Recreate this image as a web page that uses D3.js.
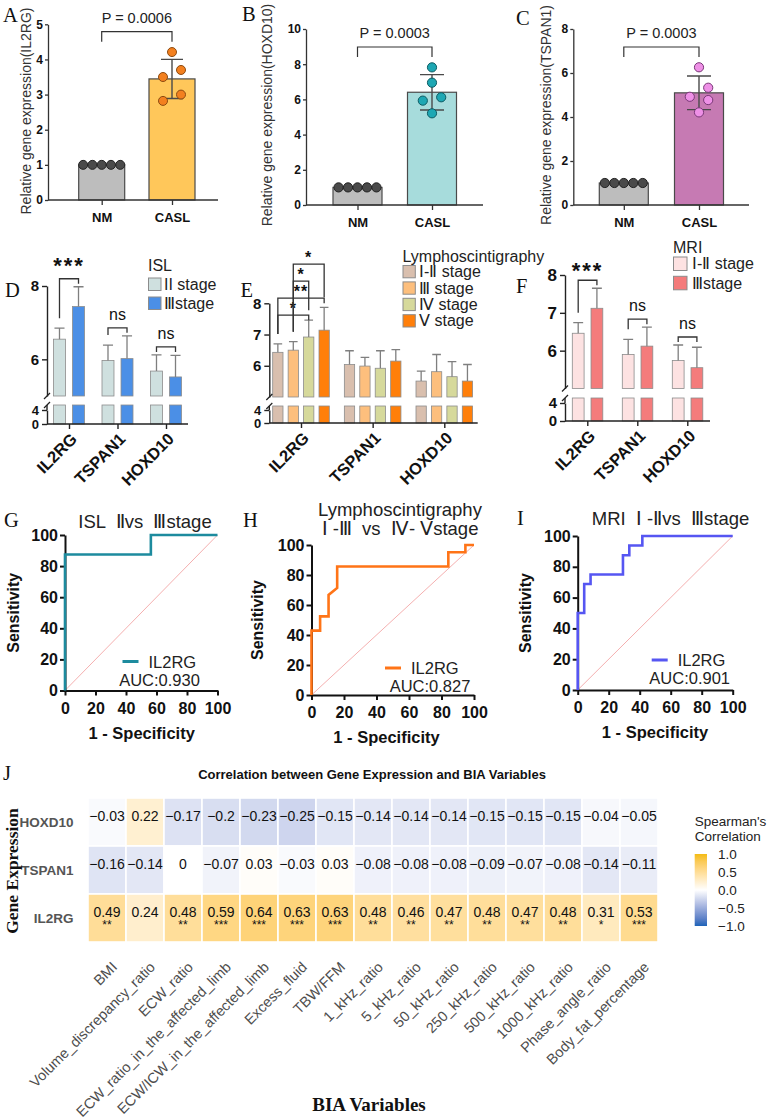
<!DOCTYPE html>
<html>
<head>
<meta charset="utf-8">
<script src="https://cdn.jsdelivr.net/npm/d3@7"></script>
<style>
  body { margin: 0; background: #fff; }
  svg { display: block; background: #fff; }
</style>
</head>
<body>
<svg id="fig" width="767" height="1119" font-family="'Liberation Sans', Arial, Helvetica, sans-serif"></svg>
<script>
// ---- values ----
var groupsAB = ["NM", "CASL"];
var nmRel = [1, 1, 1, 1, 1];
var caslIL2RG = [4.21, 3.7, 3.5, 3.0, 2.82];
var caslHOXD10 = [7.82, 6.95, 6.12, 5.93, 5.21];
var caslTSPAN1 = [6.26, 5.33, 4.92, 4.77, 4.21];
var pLabels = ["P = 0.0006", "P = 0.0003", "P = 0.0003"];

var genes = ["IL2RG", "TSPAN1", "HOXD10"];

var islStages = ["II stage", "Ⅲstage"];
var islMean = [[6.55, 7.44], [5.97, 6.02], [5.68, 5.52]];
var islSD = [[0.30, 0.54], [0.42, 0.62], [0.44, 0.59]];
var islSig = [["IL2RG", 0, 1, "***"], ["TSPAN1", 0, 1, "ns"], ["HOXD10", 0, 1, "ns"]];

var lymphStages = ["Ⅰ-Ⅱ stage", "Ⅲ stage", "Ⅳ stage", "Ⅴ stage"];
var lymphMean = [[6.43, 6.50, 6.92, 7.14], [6.04, 5.99, 5.92, 6.15], [5.51, 5.81, 5.65, 5.51]];
var lymphSD = [[0.27, 0.27, 0.54, 0.73], [0.44, 0.28, 0.56, 0.37], [0.32, 0.55, 0.48, 0.53]];
var lymphSig = [["IL2RG", 0, 2, "*"], ["IL2RG", 0, 3, "**"], ["IL2RG", 1, 2, "*"], ["IL2RG", 1, 3, "*"]];

var mriStages = [" Ⅰ-Ⅱ stage", "Ⅲstage"];
var mriMean = [[6.46, 7.12], [5.90, 6.12], [5.74, 5.55]];
var mriSD = [[0.28, 0.53], [0.40, 0.50], [0.41, 0.54]];
var mriSig = [["IL2RG", 0, 1, "***"], ["TSPAN1", 0, 1, "ns"], ["HOXD10", 0, 1, "ns"]];

var rocTicks = [0, 20, 40, 60, 80, 100];
var rocISL = [[0, 0], [0, 87.5], [56.3, 87.5], [56.3, 100], [100, 100]];
var rocLymph = [[0, 0], [0, 42.9], [5.3, 42.9], [5.3, 52.4], [10.5, 52.4], [10.5, 66.7], [15.8, 71.4],
  [15.8, 85.7], [84.2, 85.7], [84.2, 95.2], [94.7, 95.2], [94.7, 100], [100, 100]];
var rocMRI = [[0, 0], [0, 50], [4.2, 50], [4.2, 68.8], [8.3, 68.8], [8.3, 75], [29.2, 75], [29.2, 87.5],
  [33.3, 87.5], [33.3, 93.8], [41.7, 93.8], [41.7, 100], [100, 100]];
var aucLabels = ["AUC:0.930", "AUC:0.827", "AUC:0.901"];

var biaVars = ["BMI", "Volume_discrepancy_ratio", "ECW_ratio", "ECW_ratio_in_the_affected_limb",
  "ECW/ICW_in_the_affected_limb", "Excess_fluid", "TBW/FFM", "1_kHz_ratio", "5_kHz_ratio",
  "50_kHz_ratio", "250_kHz_ratio", "500_kHz_ratio", "1000_kHz_ratio", "Phase_angle_ratio",
  "Body_fat_percentage"];
var heatGenes = ["HOXD10", "TSPAN1", "IL2RG"];
var rhoHOXD10 = [-0.03, 0.22, -0.17, -0.2, -0.23, -0.25, -0.15, -0.14, -0.14, -0.14, -0.15, -0.15, -0.15, -0.04, -0.05];
var rhoTSPAN1 = [-0.16, -0.14, 0, -0.07, 0.03, -0.03, 0.03, -0.08, -0.08, -0.08, -0.09, -0.07, -0.08, -0.14, -0.11];
var rhoIL2RG = [0.49, 0.24, 0.48, 0.59, 0.64, 0.63, 0.63, 0.48, 0.46, 0.47, 0.48, 0.47, 0.48, 0.31, 0.53];
var sigIL2RG = ["**", "", "**", "***", "***", "***", "***", "**", "**", "**", "**", "**", "**", "*", "***"];
var legendTicks = [1, 0.5, 0, -0.5, -1];

var svg = d3.select("#fig");
var SANS = "'Liberation Sans', Arial, Helvetica, sans-serif";
var SERIF = "'Liberation Serif', 'Times New Roman', Times, serif";
var fmtInt = d3.format("d");

function styleAxis(sel, size, col, sw) {
  sel.select("path.domain").attr("stroke", col).attr("stroke-width", sw);
  sel.selectAll(".tick line").attr("stroke", col).attr("stroke-width", sw);
  sel.selectAll(".tick text").attr("font-size", size).attr("font-weight", "bold")
    .attr("fill", "#111").attr("font-family", SANS);
}

function panelLabel(t, x, y) {
  svg.append("text").attr("x", x).attr("y", y).attr("font-family", SERIF)
    .attr("font-size", 20.5).attr("fill", "#111").text(t);
}

// spread equal / close values sideways like a column scatter
function swarm(vals, y, r) {
  var idx = vals.map(function(v, i) { return i; })
    .sort(function(a, b) { return vals[b] - vals[a]; });
  var groups = [], cur = [];
  idx.forEach(function(i) {
    if (cur.length && Math.abs(y(vals[i]) - y(vals[cur[cur.length - 1]])) >= 2 * r + 1) {
      groups.push(cur); cur = [];
    }
    cur.push(i);
  });
  if (cur.length) groups.push(cur);
  var off = [];
  groups.forEach(function(g) {
    var ext = d3.extent(g, function(i) { return vals[i]; });
    if (g.length === 1) off[g[0]] = 0;
    else if (ext[0] === ext[1]) g.forEach(function(i, k) { off[i] = (k - (g.length - 1) / 2) * 2.06 * r; });
    else g.forEach(function(i, k) { off[i] = (k % 2 === 0 ? 1 : -1) * 2 * r; });
  });
  return off;
}

// ---------- A, B, C ----------
function drawTop(c) {
  var g = svg.append("g");
  var x = d3.scalePoint().domain(groupsAB).range(c.centers);
  var y = d3.scaleLinear().domain([0, c.ymax]).range([c.base, c.top]);
  var stats = [nmRel, c.casl].map(function(v, i) {
    return { grp: groupsAB[i], vals: v, mean: d3.mean(v), sd: d3.deviation(v) || 0 };
  });

  g.selectAll("rect.bar").data(stats).enter().append("rect")
    .attr("x", function(d) { return x(d.grp) - c.bw / 2; })
    .attr("width", c.bw)
    .attr("y", function(d) { return y(d.mean); })
    .attr("height", function(d) { return c.base - y(d.mean); })
    .attr("fill", function(d, i) { return i ? c.bar : "#bdbdbd"; })
    .attr("stroke", "#4a4a4a").attr("stroke-width", 1.2);

  stats.filter(function(d) { return d.sd > 0; }).forEach(function(d) {
    var cx = x(d.grp), hi = y(d.mean + d.sd), lo = y(d.mean - d.sd);
    g.append("path")
      .attr("d", "M" + cx + "," + lo + "V" + hi + "M" + (cx - c.cap) + "," + hi + "H" + (cx + c.cap) +
        "M" + (cx - c.cap) + "," + lo + "H" + (cx + c.cap))
      .attr("stroke", "#4a4a4a").attr("stroke-width", 1.4).attr("fill", "none");
  });

  stats.forEach(function(d, i) {
    var off = swarm(d.vals, y, c.r);
    g.selectAll(null).data(d.vals).enter().append("circle")
      .attr("cx", function(v, k) { return x(d.grp) + off[k]; })
      .attr("cy", function(v) { return y(v); })
      .attr("r", c.r)
      .attr("fill", i ? c.dot : "#4a4a4a")
      .attr("stroke", i ? c.dotStroke : "#222").attr("stroke-width", 1);
  });

  var ya = g.append("g").attr("transform", "translate(" + c.ax + ",0)")
    .call(d3.axisLeft(y).tickValues(d3.range(0, c.ymax + 0.1, c.step)).tickFormat(fmtInt)
      .tickSize(3).tickSizeOuter(0).tickPadding(2));
  styleAxis(ya, 12, "#333", 1.3);

  g.append("line").attr("x1", c.ax).attr("x2", c.axEnd).attr("y1", c.base).attr("y2", c.base)
    .attr("stroke", "#333").attr("stroke-width", 1.3);
  var xa = g.append("g").attr("transform", "translate(0," + c.base + ")")
    .call(d3.axisBottom(x).tickSize(5).tickPadding(8));
  xa.select("path.domain").remove();
  styleAxis(xa, 13, "#333", 1.3);

  // bracket + p value
  g.append("path")
    .attr("d", "M" + x("NM") + "," + (c.brY + 10) + "V" + c.brY + "H" + x("CASL") + "V" + (c.brY + 10))
    .attr("fill", "none").attr("stroke", "#333").attr("stroke-width", 1.2);
  g.append("text").attr("x", (x("NM") + x("CASL")) / 2).attr("y", c.brY - 9)
    .attr("text-anchor", "middle").attr("font-size", 14.5).attr("fill", "#222").text(c.p);

  g.append("text").attr("transform", "translate(" + c.labX + "," + c.labY + ") rotate(-90)")
    .attr("text-anchor", "middle").attr("font-size", 14).attr("fill", "#333")
    .text("Relative gene expression(" + c.gene + ")");
}

drawTop({ gene: "IL2RG", casl: caslIL2RG, p: pLabels[0], ymax: 5, step: 1, ax: 48, axEnd: 218,
  base: 200, top: 24.3, centers: [101.7, 172], bw: 46, cap: 11, r: 4.5, brY: 31.7,
  bar: "#ffc75a", dot: "#f3801f", dotStroke: "#8d4a10", labX: 31, labY: 111 });
drawTop({ gene: "HOXD10", casl: caslHOXD10, p: pLabels[1], ymax: 10, step: 2, ax: 306, axEnd: 483,
  base: 205, top: 29, centers: [357.5, 432], bw: 49, cap: 12, r: 4.6, brY: 47,
  bar: "#a7dcdc", dot: "#1ea7b3", dotStroke: "#0d5c63", labX: 272, labY: 115 });
drawTop({ gene: "TSPAN1", casl: caslTSPAN1, p: pLabels[2], ymax: 8, step: 2, ax: 573.3, axEnd: 749,
  base: 205, top: 29, centers: [623.8, 699], bw: 49, cap: 12, r: 4.6, brY: 47,
  bar: "#c67ab3", dot: "#ee90e6", dotStroke: "#7a3878", labX: 551, labY: 115 });

panelLabel("A", 3, 22);
panelLabel("B", 242, 21);
panelLabel("C", 516, 25);

// ---------- D, E, F ----------
function drawGrouped(c) {
  var g = svg.append("g");
  var xg = d3.scalePoint().domain(genes).range(c.centers);
  var xs = d3.scaleBand().domain(c.stages).range(c.sub).paddingInner(c.pad);
  var yTop = d3.scaleLinear().domain([5, 8]).range(c.top);
  var yBot = d3.scaleLinear().domain([0, 4]).range(c.bottom);
  var base = c.bottom[0], topBase = c.top[0];

  var rows = [];
  genes.forEach(function(gene, gi) {
    c.stages.forEach(function(st, si) {
      rows.push({ gene: gene, stage: st, si: si, mean: c.mean[gi][si], sd: c.sd[gi][si] });
    });
  });
  function bx(d) { return xg(d.gene) + xs(d.stage); }

  g.selectAll("rect.lo").data(rows).enter().append("rect")
    .attr("x", bx).attr("width", xs.bandwidth())
    .attr("y", c.segTop).attr("height", base - c.segTop)
    .attr("fill", function(d) { return c.colors[d.si]; })
    .attr("stroke", "#8c8c8c").attr("stroke-width", 0.8);
  g.selectAll("rect.hi").data(rows).enter().append("rect")
    .attr("x", bx).attr("width", xs.bandwidth())
    .attr("y", function(d) { return yTop(d.mean); })
    .attr("height", function(d) { return topBase - yTop(d.mean); })
    .attr("fill", function(d) { return c.colors[d.si]; })
    .attr("stroke", "#8c8c8c").attr("stroke-width", 0.8);

  var cw = xs.bandwidth() * 0.42;
  g.selectAll("path.err").data(rows).enter().append("path")
    .attr("d", function(d) {
      var cx = bx(d) + xs.bandwidth() / 2, hi = yTop(d.mean + d.sd);
      return "M" + cx + "," + yTop(d.mean) + "V" + hi + "M" + (cx - cw) + "," + hi + "H" + (cx + cw);
    })
    .attr("stroke", "#7f7f7f").attr("stroke-width", 1.3).attr("fill", "none");

  // segmented y axis
  var ya = g.append("g").attr("transform", "translate(" + c.ax + ",0)")
    .call(d3.axisLeft(yTop).tickValues(c.topTicks).tickFormat(fmtInt).tickSize(5).tickSizeOuter(0).tickPadding(3));
  styleAxis(ya, c.tickFont, "#222", 1.4);
  var yb = g.append("g").attr("transform", "translate(" + c.ax + ",0)")
    .call(d3.axisLeft(yBot).tickValues([0, 4]).tickFormat(fmtInt).tickSize(5).tickSizeOuter(0).tickPadding(3));
  styleAxis(yb, c.tickFont - 2, "#222", 1.4);
  g.append("line").attr("x1", c.ax).attr("x2", c.ax).attr("y1", yBot(4)).attr("y2", c.segTop)
    .attr("stroke", "#222").attr("stroke-width", 1.4);
  [topBase, c.segTop].forEach(function(yy) {
    g.append("line").attr("x1", c.ax - 3).attr("x2", c.ax + 3).attr("y1", yy + 3).attr("y2", yy - 3)
      .attr("stroke", "#222").attr("stroke-width", 1.2);
  });

  g.append("line").attr("x1", c.ax).attr("x2", c.axEnd).attr("y1", base).attr("y2", base)
    .attr("stroke", "#222").attr("stroke-width", 1.4);
  var xa = g.append("g").attr("transform", "translate(0," + base + ")")
    .call(d3.axisBottom(xg).tickSize(5).tickFormat(""));
  xa.select("path.domain").remove();
  styleAxis(xa, 15, "#222", 1.4);
  g.selectAll("text.gene").data(genes).enter().append("text")
    .attr("transform", function(d) { return "translate(" + (xg(d) + 5) + "," + (base + 12) + ") rotate(-45)"; })
    .attr("text-anchor", "end").attr("dy", "0.35em")
    .attr("font-size", 16.5).attr("font-weight", "bold").attr("fill", "#111").text(function(d) { return d; });

  // significance brackets, stacked upwards within a gene
  var prev = {};
  c.sig.forEach(function(s) {
    var gi = genes.indexOf(s[0]);
    var ea = c.mean[gi][s[1]] + c.sd[gi][s[1]], eb = c.mean[gi][s[2]] + c.sd[gi][s[2]];
    var xa1 = xg(s[0]) + xs(c.stages[s[1]]) + xs.bandwidth() / 2;
    var xb1 = xg(s[0]) + xs(c.stages[s[2]]) + xs.bandwidth() / 2;
    var by = yTop(Math.max(ea, eb)) - c.brGap;
    if (prev[s[0]] !== undefined) by = Math.min(by, prev[s[0]] - 17);
    prev[s[0]] = by;
    var la = Math.max(by + 5, yTop(ea) - 10), lb = Math.max(by + 5, yTop(eb) - 10);
    g.append("path").attr("d", "M" + xa1 + "," + la + "V" + by + "H" + xb1 + "V" + lb)
      .attr("fill", "none").attr("stroke", "#333").attr("stroke-width", 1.3);
    var ns = s[3] === "ns";
    g.append("text").attr("x", (xa1 + xb1) / 2).attr("y", ns ? by - 8 : by + c.starDy)
      .attr("text-anchor", "middle")
      .attr("font-size", ns ? 16 : c.starFont).attr("font-weight", ns ? "normal" : "bold")
      .attr("letter-spacing", ns ? 0 : c.starSpace).attr("fill", "#111").text(s[3]);
  });

  // legend
  g.append("text").attr("x", c.leg[0]).attr("y", c.leg[1]).attr("font-size", 16).attr("fill", "#222").text(c.legTitle);
  c.stages.forEach(function(st, i) {
    var yy = c.leg[2] + i * c.leg[4];
    g.append("rect").attr("x", c.leg[0] + 0.5).attr("y", yy).attr("width", c.leg[5]).attr("height", c.leg[5])
      .attr("fill", c.colors[i]).attr("stroke", "#8c8c8c").attr("stroke-width", 1);
    g.append("text").attr("x", c.leg[3]).attr("y", yy + c.leg[5] / 2 + 5.5)
      .attr("font-size", 16).attr("fill", "#222").text(st);
  });
}

drawGrouped({ stages: islStages, mean: islMean, sd: islSD, sig: islSig,
  colors: ["#cfe0df", "#4b8fe6"], centers: [69, 166], sub: [-15.5, 15.5], pad: 0.37,
  top: [396, 286], bottom: [424, 410], segTop: 405, topTicks: [6, 8], tickFont: 15,
  ax: 47, axEnd: 188, starFont: 22, starSpace: 2, starDy: -6, brGap: 8,
  legTitle: "ISL", leg: [148, 271, 278, 164, 19, 12.5] });
drawGrouped({ stages: lymphStages, mean: lymphMean, sd: lymphSD, sig: lymphSig,
  colors: ["#d9bfae", "#fdbf7d", "#d6d99b", "#ff7f0a"], centers: [301, 444.3], sub: [-28.3, 28.3], pad: 0.333,
  top: [397, 303.3], bottom: [423, 410], segTop: 406, topTicks: [6, 7, 8], tickFont: 15,
  ax: 269.3, axEnd: 477.7, starFont: 16, starSpace: 1, starDy: -1, brGap: 5,
  legTitle: "Lymphoscintigraphy", leg: [402.5, 262, 265.5, 419, 16.4, 12.3] });
drawGrouped({ stages: mriStages, mean: mriMean, sd: mriSD, sig: mriSig,
  colors: ["#fde2e2", "#f47b7b"], centers: [587.3, 687.3], sub: [-15, 15.5], pad: 0.37,
  top: [388.5, 275], bottom: [421, 403], segTop: 398, topTicks: [6, 7, 8], tickFont: 17,
  ax: 565, axEnd: 710, starFont: 22, starSpace: 2, starDy: -2, brGap: 8,
  legTitle: "MRI", leg: [673, 253, 257, 692, 19.3, 13.5] });

panelLabel("D", 5, 297);
panelLabel("E", 240.5, 297);
panelLabel("F", 516, 293);

// ---------- G, H, I ----------
function drawROC(c) {
  var g = svg.append("g");
  var x = d3.scaleLinear().domain([0, 100]).range(c.xr);
  var y = d3.scaleLinear().domain([0, 100]).range(c.yr);
  g.append("line").attr("x1", x(0)).attr("y1", y(0)).attr("x2", x(100)).attr("y2", y(100))
    .attr("stroke", "#f19a9a").attr("stroke-width", 0.8);

  var ya = g.append("g").attr("transform", "translate(" + c.xr[0] + ",0)")
    .call(d3.axisLeft(y).tickValues(rocTicks).tickFormat(fmtInt).tickSize(5).tickSizeOuter(0).tickPadding(2));
  styleAxis(ya, 16, "#111", 2);
  var xa = g.append("g").attr("transform", "translate(0," + c.yr[0] + ")")
    .call(d3.axisBottom(x).tickValues(rocTicks).tickFormat(fmtInt).tickSize(5).tickSizeOuter(0).tickPadding(7));
  styleAxis(xa, 16, "#111", 2);

  g.append("path").datum(c.pts)
    .attr("d", d3.line().x(function(d) { return x(d[0]); }).y(function(d) { return y(d[1]); }))
    .attr("fill", "none").attr("stroke", c.color).attr("stroke-width", 2.6);

  g.append("text").attr("transform", "translate(" + c.sensX + "," + ((c.yr[0] + c.yr[1]) / 2) + ") rotate(-90)")
    .attr("text-anchor", "middle").attr("font-size", 16).attr("font-weight", "bold").attr("fill", "#111")
    .text("Sensitivity");
  g.append("text").attr("x", c.specX).attr("y", c.yr[0] + 48).attr("text-anchor", "middle")
    .attr("font-size", 16.5).attr("font-weight", "bold").attr("fill", "#111").text("1 - Specificity");

  c.title.forEach(function(t, i) {
    g.append("text").attr("x", c.titleX).attr("y", c.titleY + i * 19).attr("text-anchor", "middle")
      .attr("font-size", 18.5).attr("fill", "#222").attr("xml:space", "preserve").text(t);
  });

  // legend
  var lx = c.xr[1] - c.legDx, ly = c.yr[0] - c.legDy;
  g.append("line").attr("x1", lx).attr("x2", lx + 16).attr("y1", ly).attr("y2", ly)
    .attr("stroke", c.color).attr("stroke-width", 3);
  g.append("text").attr("x", lx + 26).attr("y", ly + 6).attr("font-size", 16.5).attr("fill", "#222").text("IL2RG");
  g.append("text").attr("x", lx + c.aucDx).attr("y", ly + 24).attr("text-anchor", "middle")
    .attr("font-size", 16.5).attr("fill", "#222").text(c.auc);
}

drawROC({ pts: rocISL, color: "#1d8b9e", xr: [65, 217.5], yr: [690.5, 535], auc: aucLabels[0],
  title: ["ISL  Ⅱvs  Ⅲstage"], titleX: 145, titleY: 528, sensX: 19, specX: 141.7,
  legDx: 95, legDy: 29, aucDx: 37 });
drawROC({ pts: rocLymph, color: "#ff7417", xr: [311.5, 474], yr: [695, 545], auc: aucLabels[1],
  title: ["Lymphoscintigraphy", "Ⅰ -Ⅲ  vs  Ⅳ- Ⅴstage"], titleX: 400, titleY: 516, sensX: 263, specX: 386.5,
  legDx: 89, legDy: 27, aucDx: 45 });
drawROC({ pts: rocMRI, color: "#5656f2", xr: [577.7, 732.7], yr: [690, 536], auc: aucLabels[2],
  title: ["MRI  Ⅰ -Ⅱvs  Ⅲstage"], titleX: 670.5, titleY: 525, sensX: 531, specX: 655,
  legDx: 81, legDy: 30, aucDx: 38 });

panelLabel("G", 4, 527);
panelLabel("H", 243, 527);
panelLabel("I", 517, 525);

// ---------- J heatmap ----------
var rhoRows = [rhoHOXD10, rhoTSPAN1, rhoIL2RG];
var cells = [];
heatGenes.forEach(function(gname, gi) {
  biaVars.forEach(function(v, vi) {
    cells.push({ gene: gname, v: v, rho: rhoRows[gi][vi], sig: gname === "IL2RG" ? sigIL2RG[vi] : "" });
  });
});
var hx = d3.scaleBand().domain(biaVars).range([88, 658]);
var hy = d3.scaleBand().domain(heatGenes).range([798, 942]);
var heatColor = d3.scaleLinear().domain([-1, 0, 1]).range(["#1e63b8", "#ffffff", "#f4bc14"])
  .interpolate(d3.interpolateLab);

var hg = svg.append("g");
hg.selectAll("rect.cell").data(cells).enter().append("rect")
  .attr("x", function(d) { return hx(d.v); }).attr("y", function(d) { return hy(d.gene); })
  .attr("width", hx.bandwidth()).attr("height", hy.bandwidth())
  .attr("fill", function(d) { return heatColor(d.rho); })
  .attr("stroke", "#fff").attr("stroke-width", 1.6);
hg.selectAll("text.val").data(cells).enter().append("text")
  .attr("x", function(d) { return hx(d.v) + hx.bandwidth() / 2; })
  .attr("y", function(d) { return hy(d.gene) + hy.bandwidth() / 2 - 1.5; })
  .attr("text-anchor", "middle").attr("font-size", 14).attr("fill", "#111")
  .text(function(d) { return d.rho === 0 ? "0" : String(d.rho).replace("-", "\u2212"); });
hg.selectAll("text.sig").data(cells.filter(function(d) { return d.sig; })).enter().append("text")
  .attr("x", function(d) { return hx(d.v) + hx.bandwidth() / 2; })
  .attr("y", function(d) { return hy(d.gene) + hy.bandwidth() / 2 + 11; })
  .attr("text-anchor", "middle").attr("font-size", 12).attr("fill", "#111")
  .text(function(d) { return d.sig; });

hg.selectAll("text.rowlab").data(heatGenes).enter().append("text")
  .attr("x", 73.5).attr("y", function(d) { return hy(d) + hy.bandwidth() / 2 + 5; })
  .attr("text-anchor", "end").attr("font-size", 13.5).attr("font-weight", "bold").attr("fill", "#555")
  .text(function(d) { return d; });
hg.selectAll("text.collab").data(biaVars).enter().append("text")
  .attr("transform", function(d) { return "translate(" + (hx(d) + hx.bandwidth() / 2 + 11) + ",968) rotate(-45)"; })
  .attr("text-anchor", "end").attr("font-size", 14.5).attr("fill", "#4d4d4d")
  .text(function(d) { return d; });

hg.append("text").attr("x", 372).attr("y", 779).attr("text-anchor", "middle")
  .attr("font-size", 13).attr("font-weight", "bold").attr("fill", "#111")
  .text("Correlation between Gene Expression and BIA Variables");
hg.append("text").attr("x", 369).attr("y", 1111).attr("text-anchor", "middle")
  .attr("font-family", SERIF).attr("font-size", 19).attr("font-weight", "bold").attr("fill", "#111")
  .text("BIA Variables");
hg.append("text").attr("transform", "translate(18,871) rotate(-90)").attr("text-anchor", "middle")
  .attr("font-family", SERIF).attr("font-size", 17.5).attr("font-weight", "bold").attr("fill", "#111")
  .text("Gene Expression");

// colour bar legend
var cb = d3.scaleLinear().domain([1, -1]).range([854, 926]);
var grad = svg.append("defs").append("linearGradient").attr("id", "cbar")
  .attr("x1", 0).attr("y1", 0).attr("x2", 0).attr("y2", 1);
d3.range(0, 1.001, 0.1).forEach(function(t) {
  grad.append("stop").attr("offset", t).attr("stop-color", heatColor(1 - 2 * t));
});
hg.append("rect").attr("x", 694.7).attr("y", cb(1)).attr("width", 12.3).attr("height", cb(-1) - cb(1))
  .attr("fill", "url(#cbar)");
hg.append("text").attr("x", 694.7).attr("y", 826).attr("font-size", 13.5).attr("fill", "#222").text("Spearman's");
hg.append("text").attr("x", 694.7).attr("y", 841).attr("font-size", 13.5).attr("fill", "#222").text("Correlation");
hg.selectAll("text.cbt").data(legendTicks).enter().append("text")
  .attr("x", 718).attr("y", function(d) { return cb(d) + 5; })
  .attr("font-size", 13.5).attr("fill", "#222").text(d3.format(".1f"));

panelLabel("J", 3, 780);
</script>
</body>
</html>
